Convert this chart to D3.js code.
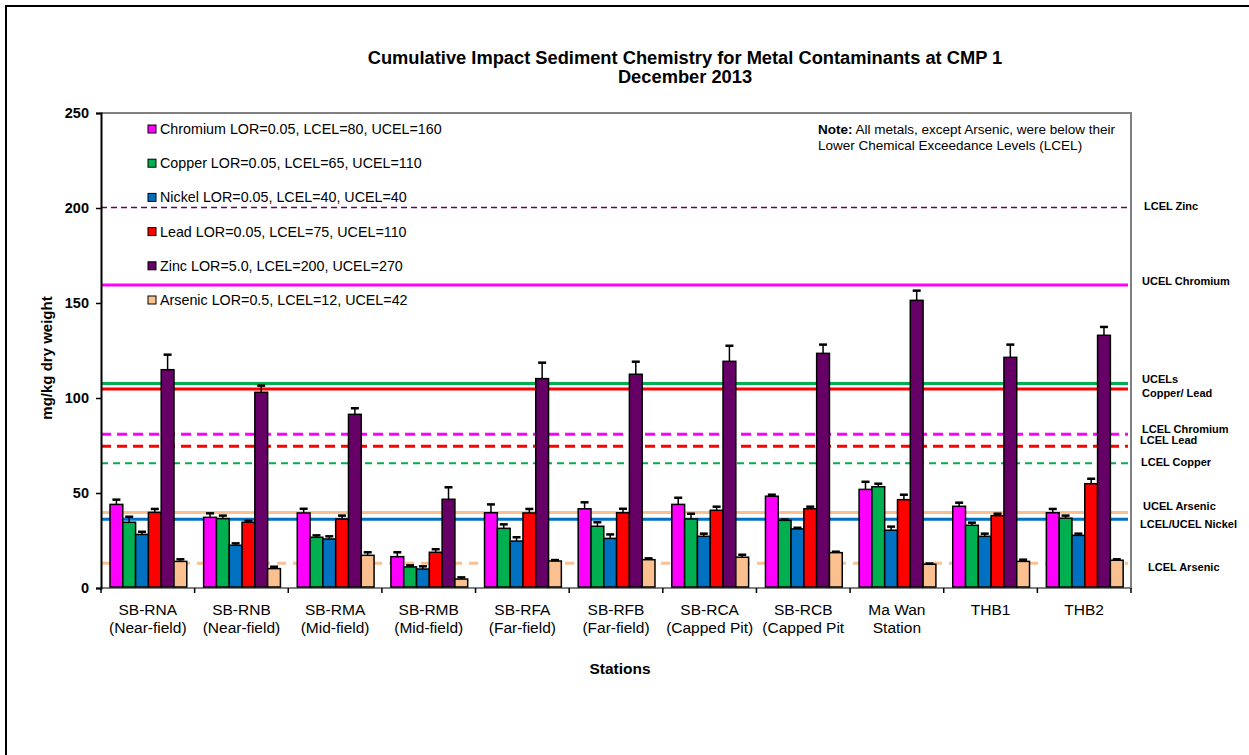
<!DOCTYPE html>
<html><head><meta charset="utf-8">
<script src="https://cdn.jsdelivr.net/npm/d3@7"></script>
<style>body{margin:0;background:#fff;} svg{display:block;font-family:"Liberation Sans",Arial,sans-serif;}</style>
</head><body>
<svg id="c" width="1249" height="755"></svg>
<script>
const stations = ["SB-RNA|(Near-field)","SB-RNB|(Near-field)","SB-RMA|(Mid-field)","SB-RMB|(Mid-field)","SB-RFA|(Far-field)","SB-RFB|(Far-field)","SB-RCA|(Capped Pit)","SB-RCB|(Capped Pit","Ma Wan|Station","THB1|","THB2|"];
const metals = ["Chromium","Copper","Nickel","Lead","Zinc","Arsenic"];
const legendLabels = ["Chromium LOR=0.05, LCEL=80, UCEL=160","Copper LOR=0.05, LCEL=65, UCEL=110","Nickel LOR=0.05, LCEL=40, UCEL=40","Lead LOR=0.05, LCEL=75, UCEL=110","Zinc LOR=5.0, LCEL=200, UCEL=270","Arsenic LOR=0.5, LCEL=12, UCEL=42"];
const colors = ["#FF00FF","#00B050","#0070C0","#FF0000","#660066","#FAC090"];
const chromium = [44.0,37.2,39.5,16.5,39.6,41.7,44.0,48.3,51.9,43.0,39.6];
const copper   = [34.6,36.5,26.7,11.1,31.4,32.5,36.3,35.6,53.3,33.0,36.7];
const nickel   = [28.2,22.5,25.8,10.0,24.7,26.1,27.2,31.1,30.4,27.2,27.7];
const lead     = [39.8,34.6,36.3,18.8,39.5,39.6,40.9,41.7,46.5,38.1,54.9];
const zinc     = [114.9,103.0,91.4,46.7,110.2,112.5,119.3,123.5,151.4,121.4,133.0];
const arsenic  = [14.0,10.2,17.2,4.7,14.2,14.9,16.2,18.6,12.5,14.0,14.6];
const chromiumErr = [46.5,39.3,41.7,18.8,44.0,45.1,47.5,49.1,55.9,44.9,41.6];
const copperErr   = [37.5,38.1,27.7,11.9,33.5,34.6,39.1,36.0,54.9,34.4,38.1];
const nickelErr   = [29.6,23.5,27.2,11.4,26.7,28.2,28.6,31.7,32.3,28.6,28.6];
const leadErr     = [41.6,35.4,38.1,20.4,41.6,41.7,42.8,42.8,49.1,39.1,57.5];
const zincErr     = [122.8,106.5,94.6,53.0,118.6,119.1,127.5,128.1,156.5,128.1,137.4];
const arsenicErr  = [15.1,11.2,18.8,5.6,14.7,15.6,17.5,19.1,12.9,14.9,15.1];
const yTicks = [0,50,100,150,200,250];
// reference levels as drawn: [value, colour, dashed, width]
const refLevels = [
  {v:200.3, c:"#660066", dash:"6,4", w:1.5},
  {v:159.5, c:"#FF00FF", dash:null, w:3},
  {v:107.6, c:"#00B050", dash:null, w:3},
  {v:104.7, c:"#FF0000", dash:null, w:3},
  {v:80.9, c:"#FF00FF", dash:"10,6", w:3},
  {v:74.6, c:"#FF0000", dash:"10,6", w:3},
  {v:65.6, c:"#00B050", dash:"7,5", w:2},
  {v:39.8, c:"#FAC090", dash:null, w:3},
  {v:36.2, c:"#0070C0", dash:null, w:3},
  {v:13.0, c:"#FAC090", dash:"9,7", w:3}
];
const refLabels = [
  {t:"LCEL Zinc", y:205.7, x:1144},
  {t:"UCEL Chromium", y:281, x:1142},
  {t:"UCELs", y:379.3, x:1142},
  {t:"Copper/ Lead", y:392.7, x:1142},
  {t:"LCEL Chromium", y:428.7, x:1142},
  {t:"LCEL Lead", y:440, x:1140},
  {t:"LCEL Copper", y:462, x:1141},
  {t:"UCEL Arsenic", y:505.7, x:1143},
  {t:"LCEL/UCEL Nickel", y:524.3, x:1140},
  {t:"LCEL Arsenic", y:566.7, x:1148}
];
const series = [chromium,copper,nickel,lead,zinc,arsenic];
const errs = [chromiumErr,copperErr,nickelErr,leadErr,zincErr,arsenicErr];

const svg = d3.select("#c");
const L=101, R=1131, T=113, B=588;
const x = d3.scaleBand().domain(stations).range([L,R]).padding(0);
const xi = d3.scaleBand().domain(metals).range([9, 9+6*12.8]).padding(0);
const y = d3.scaleLinear().domain([0,250]).range([B,T]);

// outer frame
svg.append("path").attr("d",`M6,755 L6,6 L1249,6`).attr("fill","none").attr("stroke","#000").attr("stroke-width",2);

// plot border (gray)
svg.append("path").attr("d",`M${L},${T} L${R},${T} L${R},${B} L${L},${B}`).attr("fill","none").attr("stroke","#808080").attr("stroke-width",2);

// reference lines
refLevels.forEach(r=>{
  svg.append("line").attr("x1",L).attr("x2",R-3).attr("y1",y(r.v)).attr("y2",y(r.v))
    .attr("stroke",r.c).attr("stroke-width",r.w).attr("stroke-dasharray",r.dash);
});

// bars
const g = svg.append("g");
stations.forEach((s,i)=>{
  metals.forEach((m,j)=>{
    const v = series[j][i], e = errs[j][i];
    const bx = x(s)+xi(m), bw = xi.bandwidth();
    g.append("rect").attr("x",bx).attr("y",y(v)).attr("width",bw).attr("height",y(0)-y(v)-1)
      .attr("fill",colors[j]).attr("stroke","#000").attr("stroke-width",1.5);
    const cx = bx+bw/2;
    g.append("line").attr("x1",cx).attr("x2",cx).attr("y1",y(v)).attr("y2",y(e)).attr("stroke","#000").attr("stroke-width",1.5);
    g.append("line").attr("x1",cx-4).attr("x2",cx+4).attr("y1",y(e)).attr("y2",y(e)).attr("stroke","#000").attr("stroke-width",2.5);
  });
});

// y axis
const ya = svg.append("g").attr("transform",`translate(${L},0)`)
  .call(d3.axisLeft(y).tickValues(yTicks).tickSize(5).tickPadding(7));
ya.select(".domain").attr("stroke","#000").attr("stroke-width",2);
ya.selectAll(".tick line").attr("stroke","#000").attr("stroke-width",1.5);
ya.selectAll(".tick text").attr("font-size",14.5).attr("font-weight","bold").attr("fill","#000").attr("font-family","Liberation Sans, Arial");

// x axis ticks at group boundaries
const xTicks = stations.map(s=>x(s)).concat([R]);
svg.selectAll(".xt").data(xTicks).enter().append("line").attr("x1",d=>d).attr("x2",d=>d)
  .attr("y1",B).attr("y2",B+5).attr("stroke","#000").attr("stroke-width",1.5);

// x labels
stations.forEach(s=>{
  const [a,b] = s.split("|");
  const cx = x(s)+x.bandwidth()/2;
  const t = svg.append("text").attr("x",cx).attr("text-anchor","middle").attr("font-size",15.5).attr("fill","#000");
  t.append("tspan").attr("x",cx).attr("y",614.5).text(a);
  if(b) t.append("tspan").attr("x",cx).attr("y",632.5).text(b);
});

svg.append("text").attr("x",620).attr("y",673.5).attr("text-anchor","middle").attr("font-size",15.5).attr("font-weight","bold").text("Stations");
svg.append("text").attr("transform","translate(52,358) rotate(-90)").attr("text-anchor","middle").attr("font-size",15).attr("font-weight","bold").text("mg/kg dry weight");

// title
svg.append("text").attr("x",685).attr("y",63.5).attr("text-anchor","middle").attr("font-size",18.3).attr("font-weight","bold").text("Cumulative Impact Sediment Chemistry for Metal Contaminants at CMP 1");
svg.append("text").attr("x",685).attr("y",82.5).attr("text-anchor","middle").attr("font-size",18.3).attr("font-weight","bold").text("December 2013");

// legend
legendLabels.forEach((l,i)=>{
  const cy = 129 + i*34.2;
  svg.append("rect").attr("x",148).attr("y",cy-4).attr("width",8).attr("height",8).attr("fill",colors[i]).attr("stroke","#000").attr("stroke-width",1);
  svg.append("text").attr("x",160).attr("y",cy+5).attr("font-size",14.3).attr("fill","#000").text(l);
});

// note
const note = svg.append("text").attr("x",818).attr("y",133.5).attr("font-size",13.5);
note.append("tspan").attr("font-weight","bold").text("Note:");
note.append("tspan").text(" All metals, except Arsenic, were below their");
svg.append("text").attr("x",818).attr("y",149.5).attr("font-size",13.5).text("Lower Chemical Exceedance Levels (LCEL)");

// ref labels
refLabels.forEach(r=>{
  svg.append("text").attr("x",r.x).attr("y",r.y+4).attr("font-size",11).attr("font-weight","bold").text(r.t);
});
</script>
</body></html>
